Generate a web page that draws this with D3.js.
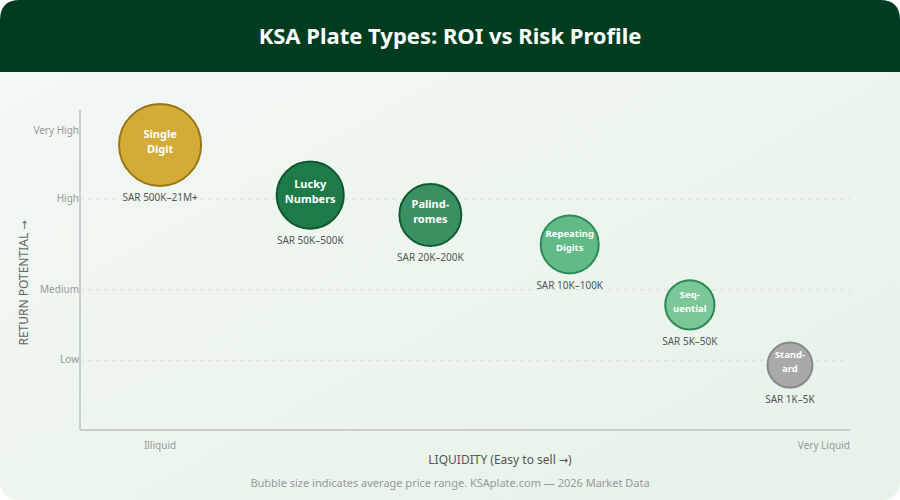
<!DOCTYPE html>
<html><head><meta charset="utf-8">
<script src="https://cdn.jsdelivr.net/npm/d3@7"></script>
<style>
html,body{margin:0;padding:0;background:#fff;}
svg{display:block;font-family:"Noto Sans","Open Sans",sans-serif;}
</style></head>
<body><svg id="chart" width="900" height="500"></svg>
<script>
const names = [["Single","Digit"],["Lucky","Numbers"],["Palind-","romes"],["Repeating","Digits"],["Seq-","uential"],["Stand-","ard"]];
const priceLabels = ["SAR 500K–21M+","SAR 50K–500K","SAR 20K–200K","SAR 10K–100K","SAR 5K–50K","SAR 1K–5K"];
const liquidity = [10.4, 29.9, 45.5, 63.6, 79.2, 92.2];
const returnScore = [89.1, 73.4, 67.2, 58.0, 39.1, 20.3];
const sizeScore = [100, 67, 57, 50, 36, 30];
const fills = ["#d5ab38","#1f7a4a","#3b9063","#62ba86","#7cc797","#a9a9a9"];
const strokes = ["#9a7414","#0f5530","#125a32","#2c8a54","#2c8a54","#888888"];
const yTickLabels = ["Low","Medium","High","Very High"];
const yTickValues = [21.8, 43.8, 72.2, 93.2];
const gridTicks = ["Low","Medium","High"];
const xTickLabels = ["Illiquid","Very Liquid"];

const svg = d3.select("#chart");
const defs = svg.append("defs");
const grad = defs.append("linearGradient").attr("id","bg").attr("x1","0").attr("y1","0").attr("x2","1").attr("y2","1");
grad.append("stop").attr("offset","0").attr("stop-color","#f3f8f4");
grad.append("stop").attr("offset","1").attr("stop-color","#e6f2e9");

function roundedRect(x,y,w,h,r){return `M${x+r},${y}H${x+w-r}Q${x+w},${y} ${x+w},${y+r}V${y+h-r}Q${x+w},${y+h} ${x+w-r},${y+h}H${x+r}Q${x},${y+h} ${x},${y+h-r}V${y+r}Q${x},${y} ${x+r},${y}Z`;}
function topRounded(x,y,w,h,r){return `M${x},${y+h}V${y+r}Q${x},${y} ${x+r},${y}H${x+w-r}Q${x+w},${y} ${x+w},${y+r}V${y+h}Z`;}

svg.append("path").attr("d", roundedRect(0,0,900,500,20)).attr("fill","url(#bg)");
svg.append("path").attr("d", topRounded(0,0,900,72,20)).attr("fill","#003d20");
svg.append("text").attr("x",450).attr("y",38).attr("text-anchor","middle").attr("dominant-baseline","middle")
  .attr("fill","#fff").attr("font-size",22).attr("font-weight",700).text("KSA Plate Types: ROI vs Risk Profile");

const x = d3.scaleLinear().domain([0,100]).range([80,850]);
const y = d3.scaleLinear().domain([0,100]).range([430,110]);
const r = d3.scaleSqrt().domain([0,100]).range([0,41]);

svg.append("g").selectAll("line").data(gridTicks).join("line")
  .attr("x1",x(0)).attr("x2",x(100))
  .attr("y1",d=>y(yTickValues[yTickLabels.indexOf(d)])).attr("y2",d=>y(yTickValues[yTickLabels.indexOf(d)]))
  .attr("stroke","#dcdcdc").attr("stroke-width",1).attr("stroke-dasharray","4,4");

svg.append("line").attr("x1",x(0)).attr("x2",x(0)).attr("y1",y(100)).attr("y2",y(0)).attr("stroke","#cccccc").attr("stroke-width",2);
svg.append("line").attr("x1",x(0)).attr("x2",x(100)).attr("y1",y(0)).attr("y2",y(0)).attr("stroke","#cccccc").attr("stroke-width",2);

svg.append("g").selectAll("text").data(yTickLabels).join("text")
  .attr("x",x(0)-1).attr("y",(d,i)=>y(yTickValues[i])).attr("text-anchor","end").attr("dominant-baseline","middle")
  .attr("fill","#999").attr("font-size",10).text(d=>d);

svg.append("text").attr("x",x(10.4)).attr("y",446).attr("text-anchor","middle").attr("dominant-baseline","middle")
  .attr("fill","#999").attr("font-size",10).text(xTickLabels[0]);
svg.append("text").attr("x",x(100)).attr("y",446).attr("text-anchor","end").attr("dominant-baseline","middle")
  .attr("fill","#999").attr("font-size",10).text(xTickLabels[1]);

const xt = svg.append("text").attr("x",500).attr("y",461).attr("text-anchor","middle").attr("dominant-baseline","middle")
  .attr("fill","#555").attr("font-size",12);
xt.append("tspan").text("LIQUIDITY (Easy to sell ");
xt.append("tspan").attr("font-family","DejaVu Sans").attr("font-size",11).text("→");
xt.append("tspan").text(")");

const yt = svg.append("text").attr("transform","translate(25,283) rotate(-90)").attr("text-anchor","middle").attr("dominant-baseline","middle")
  .attr("fill","#666").attr("font-size",12);
yt.append("tspan").text("RETURN POTENTIAL ");
yt.append("tspan").attr("font-family","DejaVu Sans").attr("font-size",11).text("→");

svg.append("text").attr("x",450).attr("y",484).attr("text-anchor","middle").attr("dominant-baseline","middle")
  .attr("fill","#999").attr("font-size",11).text("Bubble size indicates average price range. KSAplate.com — 2026 Market Data");

const data = names.map((n,i)=>({n, price:priceLabels[i], lx:liquidity[i], ry:returnScore[i], s:sizeScore[i], fill:fills[i], stroke:strokes[i]}));
const g = svg.append("g").selectAll("g").data(data).join("g")
  .attr("transform",d=>`translate(${x(d.lx)},${y(d.ry)})`);
g.append("circle").attr("r",d=>r(d.s)).attr("fill",d=>d.fill).attr("stroke",d=>d.stroke).attr("stroke-width",2);
g.each(function(d){
  const sel = d3.select(this);
  const fs = d.n[0].length>8 ? 9.5 : (r(d.s)<26 ? 9.5 : 11);
  const lh = fs + 4.5;
  d.n.forEach((line,j)=>{
    sel.append("text").attr("x",0).attr("y",(j-0.5)*lh - 2.5).attr("text-anchor","middle").attr("dominant-baseline","middle")
      .attr("fill","#fff").attr("font-size",fs).attr("font-weight",700).text(line);
  });
  sel.append("text").attr("x",0).attr("y",r(d.s)+12.5).attr("text-anchor","middle").attr("dominant-baseline","middle")
    .attr("fill","#555").attr("font-size",10).text(d.price);
});
</script></body></html>
